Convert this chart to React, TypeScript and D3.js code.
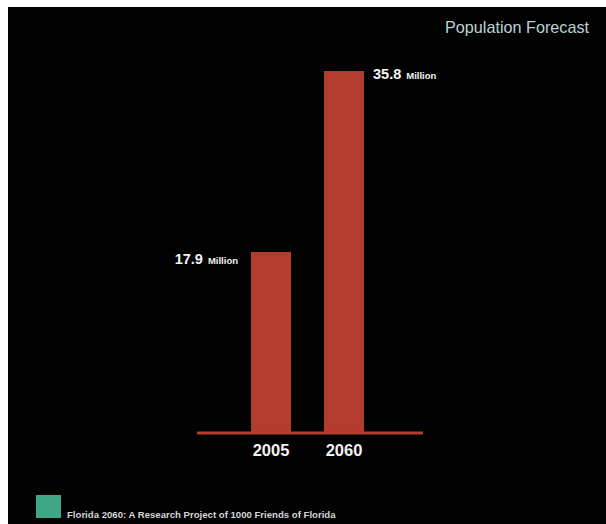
import React from "react";
import * as d3 from "d3";

const years = ["2005", "2060"];
const population = [17.9, 35.8];
const unitLabel = "Million";
const title = "Population Forecast";
const footer = "Florida 2060: A Research Project of 1000 Friends of Florida";

export default function App() {
  const W = 606;
  const H = 524;
  const baseY = 433;
  const x = d3.scaleBand<string>().domain(years).range([234.5, 380.5]).paddingInner(0.452).paddingOuter(0.226);
  const y = d3.scaleLinear().domain([0, 35.8]).range([baseY, 71]);
  const bw = x.bandwidth();
  const font = "'Liberation Sans', Arial, sans-serif";

  return (
    <svg
      width={W}
      height={H}
      style={{ position: "absolute", left: 0, top: 0, display: "block" }}
    >
      <rect x={0} y={0} width={W} height={H} fill="#ffffff" />
      <rect x={8} y={7} width={W - 8} height={H - 7} fill="#020202" />
      <text x={589} y={33} textAnchor="end" fontFamily={font} fontSize={16.2} fill="#b9d3d3">
        {title}
      </text>
      {years.map((yr, i) => (
        <rect
          key={yr}
          x={x(yr)}
          y={y(population[i])}
          width={bw}
          height={baseY - y(population[i])}
          fill="#b23d2c"
        />
      ))}
      <line x1={197} x2={423} y1={baseY} y2={baseY} stroke="#b23d2c" strokeWidth={3} />
      {years.map((yr) => (
        <text
          key={yr}
          x={(x(yr) as number) + bw / 2}
          y={456}
          textAnchor="middle"
          fontFamily={font}
          fontWeight="bold"
          fontSize={16.5}
          fill="#f2f2f2"
        >
          {yr}
        </text>
      ))}
      {years.map((yr, i) => {
        const isFirst = i === 0;
        const tx = isFirst ? (x(yr) as number) - 13 : (x(yr) as number) + bw + 9;
        const ty = y(population[i]) + (isFirst ? 12 : 8);
        return (
          <text
            key={"l" + yr}
            x={tx}
            y={ty}
            textAnchor={isFirst ? "end" : "start"}
            fontFamily={font}
            fontWeight="bold"
            fill="#f2f2f2"
          >
            <tspan fontSize={14.5}>{population[i].toFixed(1)}</tspan>
            <tspan fontSize={9.5} dx={5}>{unitLabel}</tspan>
          </text>
        );
      })}
      <rect x={36} y={495} width={25} height={23} fill="#3fa68a" />
      <text x={67} y={518} fontFamily={font} fontWeight="bold" fontSize={9.6} fill="#d6d6d6">
        {footer}
      </text>
    </svg>
  );
}
